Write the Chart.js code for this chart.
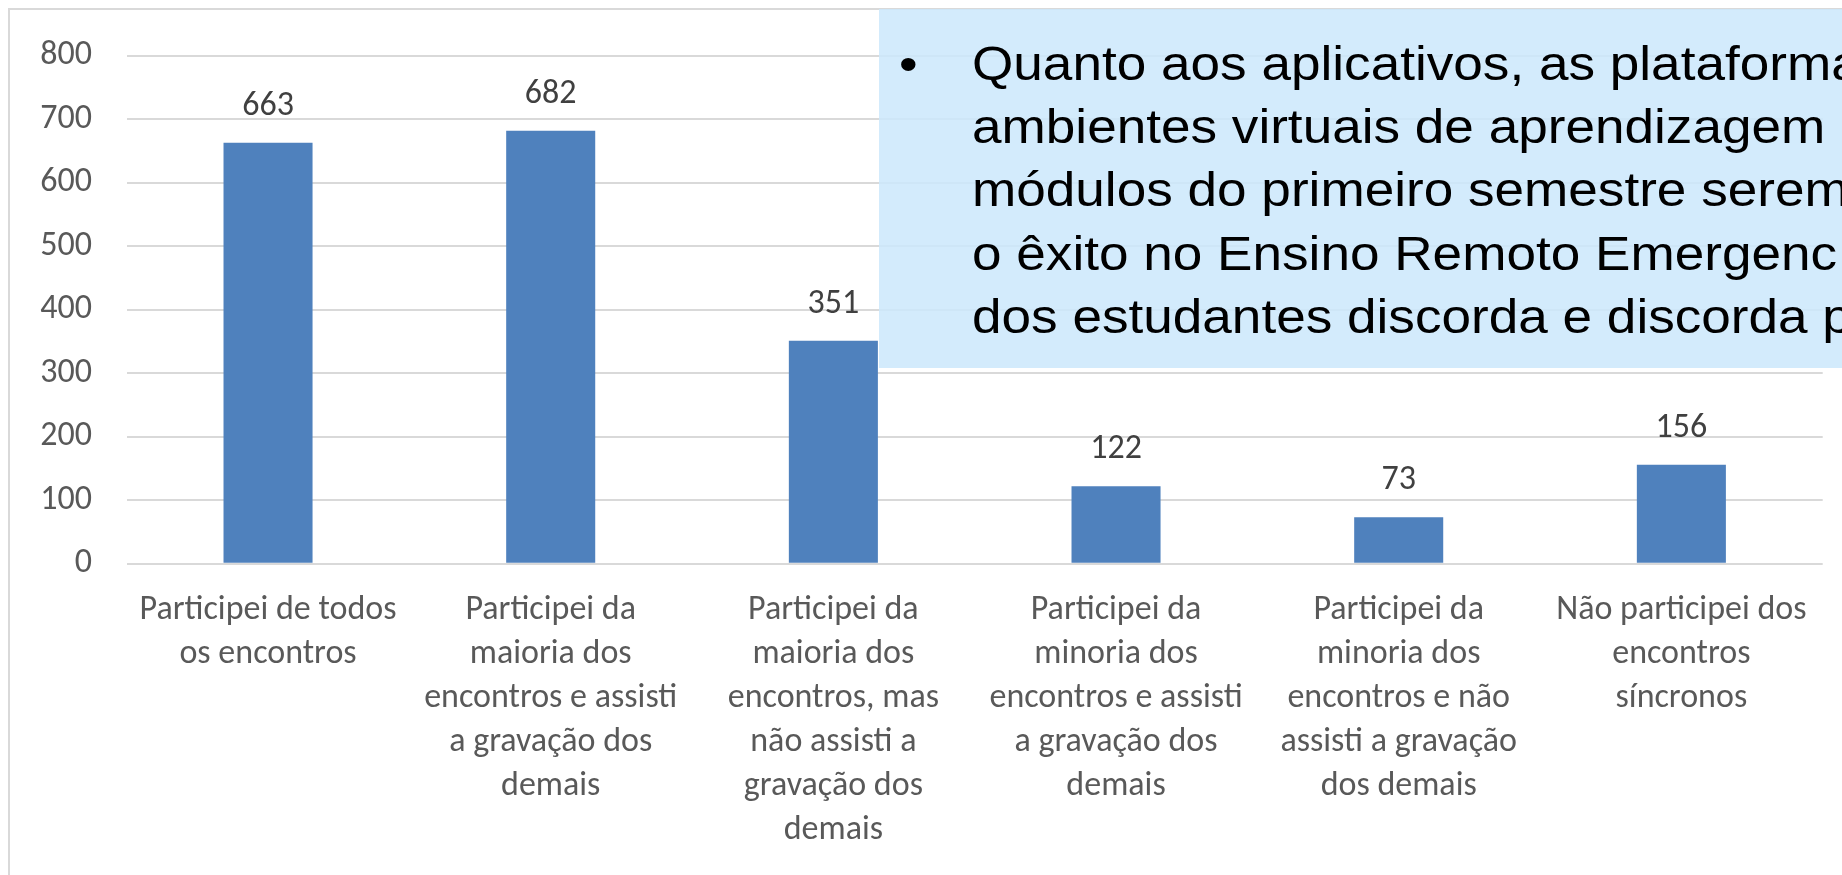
<!DOCTYPE html>
<html>
<head>
<meta charset="utf-8">
<script src="https://cdn.jsdelivr.net/npm/chart.js@4.4.1/dist/chart.umd.min.js"></script>
<style>
  html, body { margin: 0; padding: 0; background: #ffffff; overflow: hidden; }
  #wrap { position: relative; width: 1842px; height: 875px; overflow: hidden; }
  #chart { position: absolute; left: 0; top: 0; }
  #note {
    position: absolute; left: 879px; top: 9px; width: 963px; height: 359px;
    background: rgba(204, 232, 251, 0.86);
    font-family: "Liberation Sans", Arial, sans-serif; font-size: 49px; line-height: 63.3px;
    color: #000000; white-space: nowrap; overflow: hidden;
  }
  #lines {
    position: absolute; left: 93px; top: 22.9px;
    transform: scaleX(1.084); transform-origin: 0 0;
  }
  #bullet { position: absolute; left: 20px; top: 22.9px; transform: scaleX(1.084); transform-origin: 0 0; }
</style>
</head>
<body>
<div id="wrap">
  <canvas id="chart" width="1842" height="875"></canvas>
  <div id="note">
    <span id="bullet">•</span>
    <div id="lines">
      <div>Quanto aos aplicativos, as plataforma</div>
      <div>ambientes virtuais de aprendizagem</div>
      <div>módulos do primeiro semestre serem</div>
      <div>o êxito no Ensino Remoto Emergenc</div>
      <div>dos estudantes discorda e discorda p</div>
    </div>
  </div>
</div>
<script>
// ---- data ----
const categories = [
  ["Participei de todos", "os encontros"],
  ["Participei da", "maioria dos", "encontros e assisti", "a gravação dos", "demais"],
  ["Participei da", "maioria dos", "encontros, mas", "não assisti a", "gravação dos", "demais"],
  ["Participei da", "minoria dos", "encontros e assisti", "a gravação dos", "demais"],
  ["Participei da", "minoria dos", "encontros e não", "assisti a gravação", "dos demais"],
  ["Não participei dos", "encontros", "síncronos"]
];
const values = [663, 682, 351, 122, 73, 156];
const yTickLabels = [0, 100, 200, 300, 400, 500, 600, 700, 800];

const FONT = "Carlito, Lato, sans-serif";

const frame = {
  id: 'frame',
  beforeDraw(chart) {
    const ctx = chart.ctx;
    ctx.save();
    ctx.fillStyle = '#ffffff';
    ctx.fillRect(0, 0, chart.width, chart.height);
    ctx.strokeStyle = '#D9D9D9';
    ctx.lineWidth = 2;
    ctx.beginPath();
    ctx.moveTo(9, chart.height + 5);
    ctx.lineTo(9, 9);
    ctx.lineTo(chart.width + 5, 9);
    ctx.stroke();
    ctx.restore();
  }
};

const valueLabels = {
  id: 'valueLabels',
  afterDatasetsDraw(chart) {
    const ctx = chart.ctx;
    const meta = chart.getDatasetMeta(0);
    const data = chart.data.datasets[0].data;
    ctx.save();
    ctx.font = "34px " + FONT;
    ctx.fillStyle = '#404040';
    ctx.textAlign = 'center';
    ctx.textBaseline = 'alphabetic';
    meta.data.forEach((bar, i) => {
      ctx.fillText(String(data[i]), bar.x, bar.y - 28);
    });
    ctx.restore();
  }
};

new Chart(document.getElementById('chart'), {
  type: 'bar',
  data: {
    labels: categories,
    datasets: [{
      data: values,
      backgroundColor: '#4F81BD',
      borderWidth: 0,
      barPercentage: 0.315,
      categoryPercentage: 1.0
    }]
  },
  options: {
    responsive: false,
    animation: false,
    layout: { padding: { top: 55.7, left: 0, right: 19.3, bottom: 0 } },
    plugins: { legend: { display: false }, tooltip: { enabled: false } },
    scales: {
      x: {
        grid: { display: false, drawTicks: false },
        border: { display: false },
        ticks: {
          autoSkip: false, maxRotation: 0, minRotation: 0,
          padding: 25,
          color: '#595959',
          font: { family: FONT, size: 34, lineHeight: 1.294 }
        },
        afterFit(scale) { scale.height = 875 - 563.7; }
      },
      y: {
        min: yTickLabels[0],
        max: yTickLabels[yTickLabels.length - 1],
        grid: { color: '#D9D9D9', lineWidth: 2, drawTicks: false },
        border: { display: false },
        ticks: {
          stepSize: yTickLabels[1] - yTickLabels[0],
          padding: 34.7,
          color: '#595959',
          font: { family: FONT, size: 34 }
        },
        afterFit(scale) { scale.width = 126.7; }
      }
    }
  },
  plugins: [frame, valueLabels]
});
</script>
</body>
</html>
